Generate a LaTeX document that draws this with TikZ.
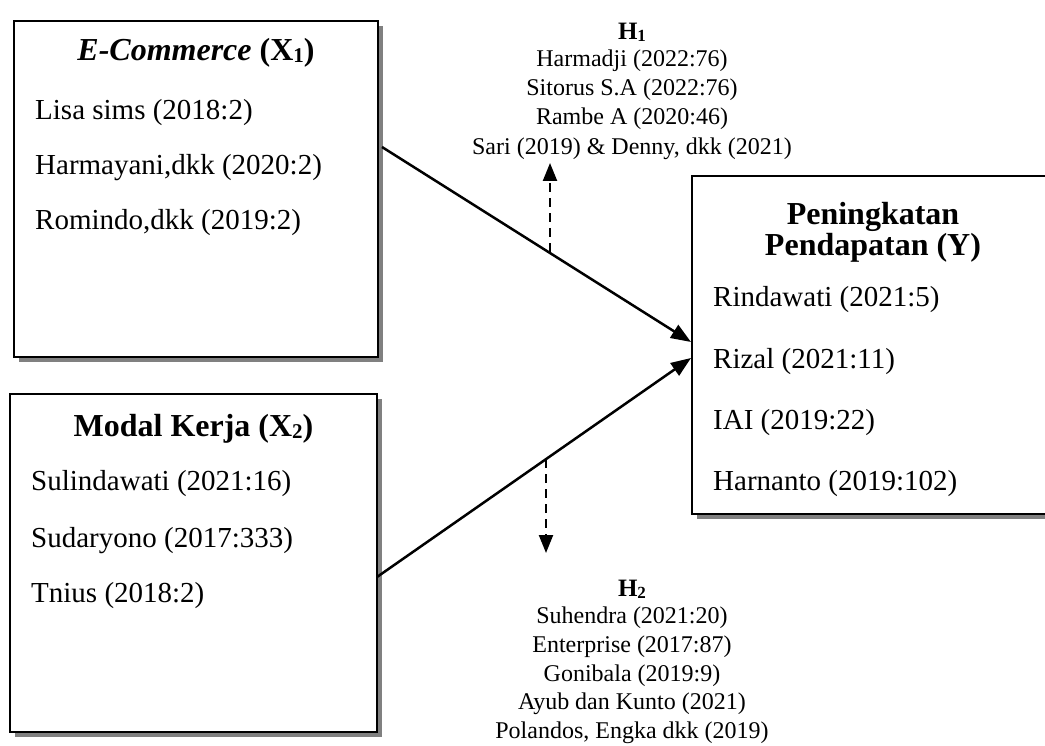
\documentclass[tikz,border=0pt]{standalone}
\usepackage{fontspec}
\setmainfont{Liberation Serif}
\usetikzlibrary{arrows.meta,shadows}
\newcommand{\lowsub}[2]{\raisebox{-#2}{\fontsize{#1}{#1}\selectfont}}
\begin{document}
\begin{tikzpicture}[x=1pt,y=-1pt,
  box/.style={draw, line width=2.5pt, fill=white, inner sep=0pt,
    drop shadow={shadow xshift=5pt, shadow yshift=-5pt, fill=black!50, opacity=1}},
  boxtitle/.style={font=\fontsize{32}{36}\selectfont\bfseries, anchor=base, inner sep=0pt},
  item/.style={font=\fontsize{29}{34}\selectfont, anchor=base west, inner sep=0pt},
  hyp/.style={font=\fontsize{24}{29}\selectfont, anchor=base, inner sep=0pt},
  hyptitle/.style={font=\fontsize{25}{29}\selectfont\bfseries, anchor=base, inner sep=0pt},
  link/.style={line width=2.5pt, -{Triangle[length=20pt,width=15pt]}},
  dlink/.style={line width=2.2pt, dash pattern=on 9pt off 6pt, -{Triangle[length=18pt,width=14pt]}}
]
\clip (0,0) rectangle (1045,746);
\fill[white] (0,0) rectangle (1045,746);

% boxes
\node[box, minimum width=364pt, minimum height=336pt] (x1) at (196,189) {};
\node[box, minimum width=367pt, minimum height=338pt] (x2) at (193.5,563) {};
\node[box, minimum width=380pt, minimum height=338pt] (yb) at (882,345) {};

% box X1 text
\node[boxtitle] (x1t) at (196,61) {\textit{E-Commerce} (X\raisebox{-2pt}{\fontsize{21}{21}\selectfont 1})};
\node[item] (x1a) at (35,120) {Lisa sims (2018:2)};
\node[item] (x1b) at (35,175) {Harmayani,dkk (2020:2)};
\node[item] (x1c) at (35,230) {Romindo,dkk (2019:2)};

% box X2 text
\node[boxtitle] (x2t) at (193.5,436) {Modal Kerja (X\raisebox{-2pt}{\fontsize{21}{21}\selectfont 2})};
\node[item] (x2a) at (31,490) {Sulindawati (2021:16)};
\node[item] (x2b) at (31,547) {Sudaryono (2017:333)};
\node[item] (x2c) at (31,602) {Tnius (2018:2)};

% box Y text
\node[boxtitle] (yt1) at (873,225) {Peningkatan};
\node[boxtitle] (yt2) at (873,256) {Pendapatan (Y)};
\node[item] (ya) at (713,307) {Rindawati (2021:5)};
\node[item] (yb1) at (713,368) {Rizal (2021:11)};
\node[item] (yc) at (713,429) {IAI (2019:22)};
\node[item] (yd) at (713,490) {Harnanto (2019:102)};

% H1 block
\node[hyptitle] (h1) at (632,40) {H\raisebox{-2pt}{\fontsize{17}{17}\selectfont 1}};
\node[hyp] (h1a) at (632,67) {Harmadji (2022:76)};
\node[hyp] (h1b) at (632,96) {Sitorus S.A (2022:76)};
\node[hyp] (h1c) at (632,125) {Rambe A (2020:46)};
\node[hyp] (h1d) at (632,155) {Sari (2019) \& Denny, dkk (2021)};

% H2 block
\node[hyptitle] (h2) at (632,596) {H\raisebox{-2pt}{\fontsize{17}{17}\selectfont 2}};
\node[hyp] (h2a) at (632,623) {Suhendra (2021:20)};
\node[hyp] (h2b) at (632,652) {Enterprise (2017:87)};
\node[hyp] (h2c) at (632,681) {Gonibala (2019:9)};
\node[hyp] (h2d) at (632,709) {Ayub dan Kunto (2021)};
\node[hyp] (h2e) at (632,738) {Polandos, Engka dkk (2019)};

% connector anchor points
\coordinate (s1) at (382,147);
\coordinate (e1) at (691,342);
\coordinate (s2) at (377,577);
\coordinate (e2) at (691,358);
\coordinate (d1s) at (550,252);
\coordinate (d1e) at (550,163);
\coordinate (d2s) at (546,459);
\coordinate (d2e) at (546,553);

\draw[link] (s1) -- (e1);
\draw[link] (s2) -- (e2);
\draw[dlink] (d1s) -- (d1e);
\draw[dlink] (d2s) -- (d2e);
\end{tikzpicture}
\end{document}
